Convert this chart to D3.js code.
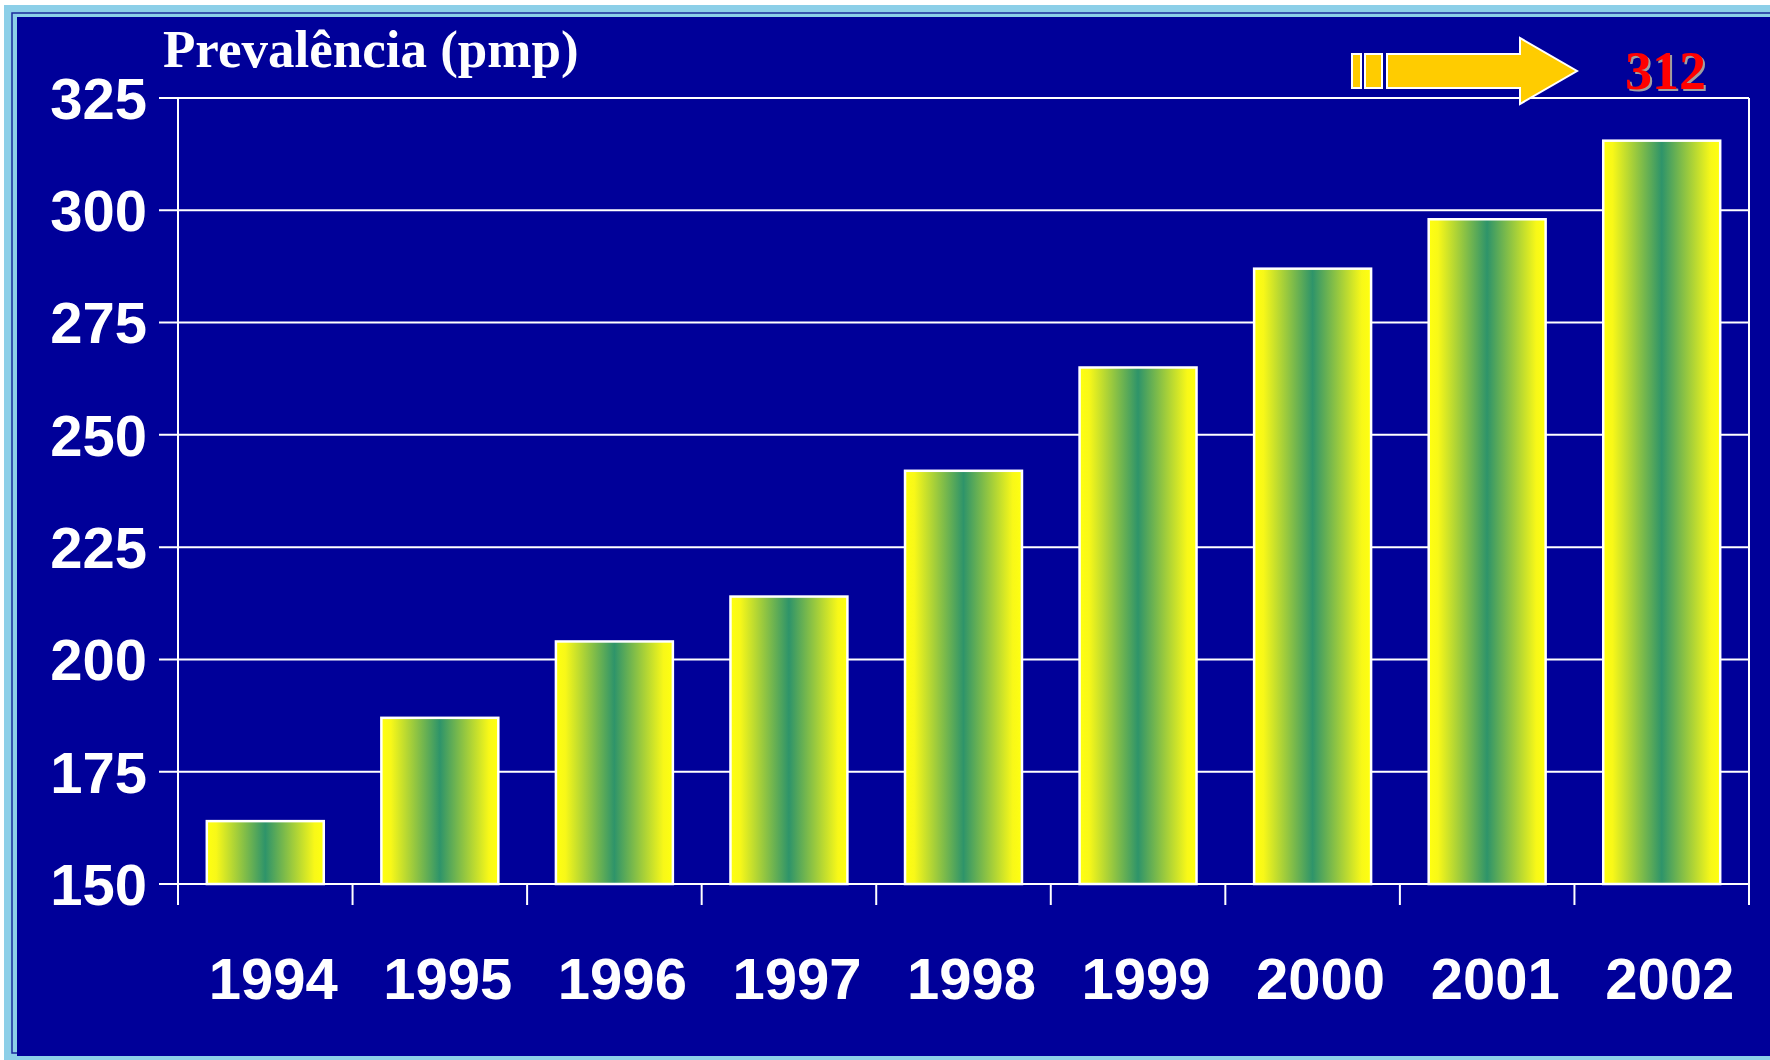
<!DOCTYPE html>
<html>
<head>
<meta charset="utf-8">
<script src="https://cdn.jsdelivr.net/npm/d3@7"></script>
<style>
  html, body { margin: 0; padding: 0; background: #ffffff; overflow: hidden; }
  svg { display: block; }
</style>
</head>
<body>
<script>
// ---- data ----
const years = ["1994", "1995", "1996", "1997", "1998", "1999", "2000", "2001", "2002"];
const prevalence = [164, 187, 204, 214, 242, 265, 287, 298, 315.5];
const yTicks = [150, 175, 200, 225, 250, 275, 300, 325];
const titleText = "Prevalência (pmp)";
const calloutText = "312";

const W = 1770, H = 1060;
const svg = d3.select("body").append("svg").attr("width", W).attr("height", H);

// ---- frame ----
svg.append("rect").attr("x", 4).attr("y", 5).attr("width", W + 20).attr("height", H)
  .attr("fill", "#8ccfe8");
svg.append("rect").attr("x", 12).attr("y", 13).attr("width", W + 20).attr("height", 1040)
  .attr("fill", "none").attr("stroke", "#1a2a9a").attr("stroke-width", 1.5);
svg.append("rect").attr("x", 17).attr("y", 17).attr("width", W + 20).attr("height", 1039)
  .attr("fill", "#000099");

// ---- gradient ----
const defs = svg.append("defs");
const grad = defs.append("linearGradient").attr("id", "barGrad")
  .attr("x1", "0%").attr("x2", "100%").attr("y1", "0%").attr("y2", "0%");
[[0, "#ffff10"], [0.08, "#f8f818"], [0.5, "#2e946a"], [0.92, "#f8f818"], [1, "#ffff10"]]
  .forEach(([o, c]) => grad.append("stop").attr("offset", o).attr("stop-color", c));

// ---- scales ----
const x = d3.scaleBand().domain(years).range([178, 1749]).paddingInner(0.33).paddingOuter(0.165);
const y = d3.scaleLinear().domain([150, 325]).range([884, 98]);

const left = 178, right = 1749;

// gridlines
svg.append("g").selectAll("line").data(yTicks).join("line")
  .attr("x1", left - 19).attr("x2", right)
  .attr("y1", d => y(d)).attr("y2", d => y(d))
  .attr("stroke", "#ffffff").attr("stroke-width", 2);

// y axis line & right frame line
svg.append("line").attr("x1", left).attr("x2", left).attr("y1", y(325)).attr("y2", y(150) + 21)
  .attr("stroke", "#ffffff").attr("stroke-width", 2);
svg.append("line").attr("x1", right).attr("x2", right).attr("y1", y(325)).attr("y2", y(150) + 21)
  .attr("stroke", "#ffffff").attr("stroke-width", 2);

// x ticks at band boundaries
const step = x.step();
const boundaries = years.map(d => x(d) - step * x.paddingInner() / 2);
svg.append("g").selectAll("line").data(boundaries.slice(1)).join("line")
  .attr("x1", d => d).attr("x2", d => d)
  .attr("y1", y(150)).attr("y2", y(150) + 21)
  .attr("stroke", "#ffffff").attr("stroke-width", 2);

// bars
svg.append("g").selectAll("rect").data(years).join("rect")
  .attr("x", d => x(d))
  .attr("y", (d, i) => y(prevalence[i]))
  .attr("width", x.bandwidth())
  .attr("height", (d, i) => y(150) - y(prevalence[i]))
  .attr("fill", "url(#barGrad)")
  .attr("stroke", "#ffffff").attr("stroke-width", 2.5);

// y labels
svg.append("g").selectAll("text").data(yTicks).join("text")
  .attr("x", 147)
  .attr("y", d => y(d))
  .attr("dy", "0.36em")
  .attr("text-anchor", "end")
  .attr("font-family", "'Liberation Sans', Arial, sans-serif")
  .attr("font-weight", "bold")
  .attr("font-size", 58)
  .attr("fill", "#ffffff")
  .text(d => d);

// x labels
svg.append("g").selectAll("text").data(years).join("text")
  .attr("x", d => x(d) + x.bandwidth() / 2 + 8)
  .attr("y", 999)
  .attr("text-anchor", "middle")
  .attr("font-family", "'Liberation Sans', Arial, sans-serif")
  .attr("font-weight", "bold")
  .attr("font-size", 58)
  .attr("fill", "#ffffff")
  .text(d => d);

// title
svg.append("text")
  .attr("x", 163).attr("y", 67)
  .attr("font-family", "'Liberation Serif', 'Times New Roman', serif")
  .attr("font-weight", "bold")
  .attr("font-size", 53)
  .attr("fill", "#ffffff")
  .text(titleText);

// arrow callout
const arrow = svg.append("g").attr("fill", "#ffcc00").attr("stroke", "#ffffff").attr("stroke-width", 2);
arrow.append("rect").attr("x", 1352).attr("y", 54).attr("width", 9).attr("height", 34);
arrow.append("rect").attr("x", 1365).attr("y", 54).attr("width", 17).attr("height", 34);
arrow.append("path").attr("d", "M1387,54 L1520,54 L1520,38 L1577,71 L1520,104 L1520,88 L1387,88 Z");

svg.append("text")
  .attr("x", 1627).attr("y", 91)
  .attr("font-family", "'Liberation Serif', 'Times New Roman', serif")
  .attr("font-weight", "bold")
  .attr("font-size", 54)
  .attr("fill", "#a0a0a0")
  .text(calloutText);
svg.append("text")
  .attr("x", 1625).attr("y", 89)
  .attr("font-family", "'Liberation Serif', 'Times New Roman', serif")
  .attr("font-weight", "bold")
  .attr("font-size", 54)
  .attr("fill", "#ff0000")
  .text(calloutText);
</script>
</body>
</html>
